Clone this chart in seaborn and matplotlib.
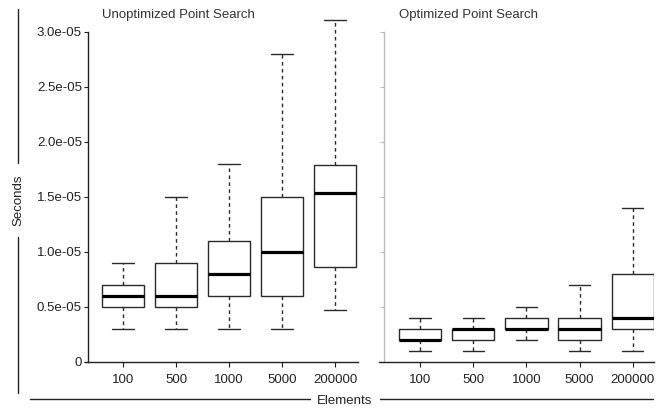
import numpy as np
import pandas as pd
import seaborn as sns
import matplotlib.pyplot as plt
from matplotlib.lines import Line2D

sns.set_style("ticks")
plt.rcParams['font.family'] = ['Liberation Sans', 'DejaVu Sans']

# 數據：每組的五數摘要（單位 1e-5 秒）
sizes = ["100", "500", "1000", "5000", "200000"]

unopt_min = [0.3, 0.3, 0.3, 0.3, 0.47]
unopt_q1 = [0.5, 0.5, 0.6, 0.6, 0.86]
unopt_med = [0.6, 0.6, 0.8, 1.0, 1.53]
unopt_q3 = [0.7, 0.9, 1.1, 1.5, 1.79]
unopt_max = [0.9, 1.5, 1.8, 2.8, 3.11]

opt_min = [0.1, 0.1, 0.2, 0.1, 0.1]
opt_q1 = [0.2, 0.2, 0.3, 0.2, 0.3]
opt_med = [0.2, 0.3, 0.3, 0.3, 0.4]
opt_q3 = [0.3, 0.3, 0.4, 0.4, 0.8]
opt_max = [0.4, 0.4, 0.5, 0.7, 1.4]

ytick_vals = [0, 0.5, 1.0, 1.5, 2.0, 2.5, 3.0]
ytick_labels = ["0", "0.5e-05", "1.0e-05", "1.5e-05", "2.0e-05", "2.5e-05", "3.0e-05"]


def make_frame(mins, q1s, meds, q3s, maxs):
    rows = []
    for i, s in enumerate(sizes):
        for v in (mins[i], q1s[i], meds[i], q3s[i], maxs[i]):
            rows.append({"Elements": s, "Seconds": v * 1e-5})
    return pd.DataFrame(rows)


df_unopt = make_frame(unopt_min, unopt_q1, unopt_med, unopt_q3, unopt_max)
df_opt = make_frame(opt_min, opt_q1, opt_med, opt_q3, opt_max)

W, H = 661, 411
fig = plt.figure(figsize=(W / 100, H / 100), dpi=100)

y_bottom = 361.7
px_per_unit = 110.0  # pixels per 1e-5
y_top = y_bottom - 3.2 * px_per_unit


def add_panel(x0, x1, first_center, spacing, spine_x, df, title, title_x, show_labels):
    ax = fig.add_axes([x0 / W, 1 - y_bottom / H, (x1 - x0) / W, (y_bottom - y_top) / H])
    sns.boxplot(
        data=df, x="Elements", y="Seconds", order=sizes, ax=ax,
        whis=(0, 100), width=0.8, color="white", linecolor="#2a2a2a",
        linewidth=1.0, fliersize=0,
        medianprops={"linewidth": 2.3, "color": "black"},
        whiskerprops={"linestyle": (0, (2.6, 2.4))},
    )
    ax.set_xlim((x0 - first_center) / spacing, (x1 - first_center) / spacing)
    ax.set_ylim(0, 3.2e-5)
    ax.set_xlabel("")
    ax.set_ylabel("")
    for side in ["top", "right"]:
        ax.spines[side].set_visible(False)
    ax.spines["bottom"].set_color("#222222")
    ax.spines["bottom"].set_linewidth(1.0)
    ax.spines["left"].set_position(("data", (spine_x - first_center) / spacing))
    ax.spines["left"].set_bounds(0, 3.0e-5)
    ax.set_yticks([v * 1e-5 for v in ytick_vals])
    if show_labels:
        ax.spines["left"].set_color("#222222")
        ax.set_yticklabels(ytick_labels)
        ax.tick_params(axis="y", left=True, length=2.6, width=0.8, color="#222222",
                       pad=2, labelsize=9.5, labelcolor="#222222")
    else:
        ax.spines["left"].set_color("#bdbdbd")
        ax.set_yticklabels([])
        ax.tick_params(axis="y", left=True, length=3.0, width=0.8, color="#bdbdbd")
    ax.spines["left"].set_linewidth(1.0)
    ax.tick_params(axis="x", bottom=True, length=3.6, width=0.8, color="#222222",
                   pad=5.5, labelsize=9.5, labelcolor="#222222")
    ax.patch.set_alpha(0)
    fig.text(title_x / W, 1 - 15 / H, title, ha="left", va="center",
             fontsize=9.5, color="#333333")
    return ax


add_panel(85, 357.7, 123, 53.0, 88.3, df_unopt, "Unoptimized Point Search", 102, True)
add_panel(379, 653.7, 420, 53.2, 384, df_opt, "Optimized Point Search", 399, False)

# 外框標籤線
line_kw = dict(color="#222222", linewidth=1.0, transform=fig.transFigure)
fig.add_artist(Line2D([18 / W, 18 / W], [1 - 9 / H, 1 - 163 / H], **line_kw))
fig.add_artist(Line2D([18 / W, 18 / W], [1 - 237 / H, 1 - 393 / H], **line_kw))
fig.add_artist(Line2D([30 / W, 310 / W], [1 - 399 / H, 1 - 399 / H], **line_kw))
fig.add_artist(Line2D([380 / W, 653 / W], [1 - 399 / H, 1 - 399 / H], **line_kw))
fig.text(18 / W, 1 - 200 / H, "Seconds", rotation=90, ha="center", va="center",
         fontsize=9.5, color="#222222")
fig.text(344.5 / W, 1 - 400.5 / H, "Elements", ha="center", va="center",
         fontsize=9.5, color="#222222")

fig.savefig("out.png", dpi=100)
